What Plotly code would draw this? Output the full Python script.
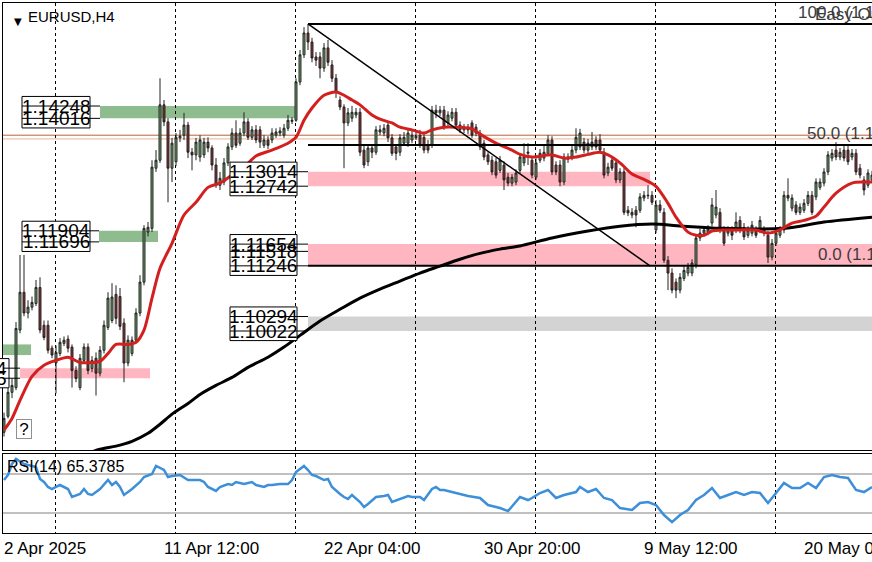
import plotly.graph_objects as go

W, H = 872, 562

# EURUSD H4 candles, bar 0 = 2 Apr 2025 00:00
opens = [
    1.0812, 1.0842, 1.0887, 1.0896, 1.1004, 1.1075, 1.1036, 1.1047, 1.1054, 1.1084,
    1.1013, 1.1013, 1.0970, 1.0942, 1.0960, 1.0979, 1.0987, 1.0972, 1.0928, 1.0896,
    1.0947, 1.0972, 1.0932, 1.0951, 1.0923, 1.0966, 1.1009, 1.1022, 1.1071, 1.1067,
    1.1017, 1.0942, 1.0960, 1.0985, 1.1036, 1.1094, 1.1188, 1.1195, 1.1308, 1.1323,
    1.1427, 1.1395, 1.1308, 1.1320, 1.1365, 1.1370, 1.1389, 1.1338, 1.1333, 1.1329,
    1.1333, 1.1357, 1.1346, 1.1314, 1.1276, 1.1282, 1.1318, 1.1348, 1.1374, 1.1355,
    1.1374, 1.1395, 1.1366, 1.1380, 1.1380, 1.1351, 1.1361, 1.1361, 1.1370, 1.1374,
    1.1370, 1.1383, 1.1396, 1.1398, 1.1470, 1.1521, 1.1562, 1.1545, 1.1517, 1.1517,
    1.1496, 1.1534, 1.1502, 1.1477, 1.1436, 1.1423, 1.1393, 1.1402, 1.1408, 1.1413,
    1.1342, 1.1320, 1.1346, 1.1338, 1.1376, 1.1374, 1.1389, 1.1365, 1.1348, 1.1338,
    1.1355, 1.1355, 1.1361, 1.1365, 1.1370, 1.1366, 1.1351, 1.1351, 1.1417, 1.1412,
    1.1417, 1.1393, 1.1402, 1.1413, 1.1389, 1.1380, 1.1385, 1.1393, 1.1385, 1.1374,
    1.1355, 1.1333, 1.1323, 1.1320, 1.1304, 1.1314, 1.1291, 1.1280, 1.1282, 1.1304,
    1.1318, 1.1336, 1.1323, 1.1291, 1.1323, 1.1327, 1.1336, 1.1361, 1.1314, 1.1314,
    1.1282, 1.1329, 1.1329, 1.1342, 1.1348, 1.1357, 1.1342, 1.1348, 1.1361, 1.1361,
    1.1338, 1.1299, 1.1323, 1.1318, 1.1286, 1.1301, 1.1229, 1.1220, 1.1229, 1.1229,
    1.1252, 1.1256, 1.1257, 1.1192, 1.1239, 1.1225, 1.1135, 1.1111, 1.1094, 1.1079,
    1.1101, 1.1111, 1.1111, 1.1126, 1.1177, 1.1186, 1.1188, 1.1205, 1.1220, 1.1225,
    1.1192, 1.1186, 1.1192, 1.1192, 1.1210, 1.1197, 1.1182, 1.1186, 1.1192, 1.1192,
    1.1186, 1.1182, 1.1141, 1.1167, 1.1182, 1.1192, 1.1257, 1.1233, 1.1239, 1.1225,
    1.1229, 1.1242, 1.1257, 1.1254, 1.1272, 1.1280, 1.1301, 1.1327, 1.1342, 1.1329,
    1.1342, 1.1342, 1.1329, 1.1336, 1.1308, 1.1286, 1.1276, 1.1286,
]
highs = [
    1.0849, 1.0895, 1.0913, 1.1019, 1.1145, 1.1145, 1.1060, 1.1067, 1.1098, 1.1103,
    1.1022, 1.1022, 1.0975, 1.0975, 1.0989, 1.0992, 1.0994, 1.0977, 1.0936, 1.0959,
    1.0979, 1.0979, 1.0955, 1.0962, 1.0974, 1.1022, 1.1075, 1.1092, 1.1088, 1.1083,
    1.1026, 1.0994, 1.0992, 1.1045, 1.1107, 1.1201, 1.1207, 1.1323, 1.1342, 1.1477,
    1.1436, 1.1402, 1.1365, 1.1374, 1.1380, 1.1412, 1.1395, 1.1346, 1.1365, 1.1370,
    1.1365, 1.1366, 1.1351, 1.1327, 1.1301, 1.1327, 1.1355, 1.1383, 1.1398, 1.1383,
    1.1413, 1.1402, 1.1387, 1.1389, 1.1387, 1.1370, 1.1368, 1.1383, 1.1383, 1.1385,
    1.1391, 1.1408, 1.1404, 1.1477, 1.1530, 1.1573, 1.1579, 1.1553, 1.1526, 1.1526,
    1.1543, 1.1549, 1.1511, 1.1485, 1.1443, 1.1428, 1.1421, 1.1425, 1.1421, 1.1421,
    1.1350, 1.1353, 1.1351, 1.1387, 1.1389, 1.1391, 1.1395, 1.1372, 1.1353, 1.1372,
    1.1376, 1.1383, 1.1380, 1.1376, 1.1380, 1.1374, 1.1361, 1.1425, 1.1427, 1.1425,
    1.1425, 1.1415, 1.1421, 1.1421, 1.1396, 1.1391, 1.1391, 1.1398, 1.1391, 1.1380,
    1.1361, 1.1338, 1.1331, 1.1327, 1.1331, 1.1321, 1.1299, 1.1297, 1.1306, 1.1336,
    1.1355, 1.1355, 1.1331, 1.1327, 1.1344, 1.1350, 1.1370, 1.1368, 1.1321, 1.1323,
    1.1336, 1.1336, 1.1350, 1.1383, 1.1382, 1.1365, 1.1363, 1.1376, 1.1368, 1.1372,
    1.1346, 1.1318, 1.1331, 1.1323, 1.1308, 1.1308, 1.1237, 1.1233, 1.1237, 1.1261,
    1.1265, 1.1276, 1.1265, 1.1248, 1.1248, 1.1233, 1.1143, 1.1120, 1.1101, 1.1111,
    1.1124, 1.1130, 1.1137, 1.1184, 1.1194, 1.1199, 1.1201, 1.1252, 1.1267, 1.1233,
    1.1199, 1.1199, 1.1199, 1.1225, 1.1218, 1.1205, 1.1199, 1.1209, 1.1199, 1.1218,
    1.1199, 1.1190, 1.1175, 1.1194, 1.1199, 1.1265, 1.1289, 1.1259, 1.1246, 1.1242,
    1.1250, 1.1265, 1.1265, 1.1289, 1.1289, 1.1308, 1.1340, 1.1344, 1.1357, 1.1346,
    1.1350, 1.1350, 1.1344, 1.1344, 1.1316, 1.1293, 1.1306, 1.1303,
]
lows = [
    1.0804, 1.0838, 1.0876, 1.0891, 1.0998, 1.1030, 1.1026, 1.1041, 1.1049, 1.0998,
    1.0985, 1.0960, 1.0951, 1.0885, 1.0955, 1.0974, 1.0962, 1.0896, 1.0906, 1.0891,
    1.0942, 1.0921, 1.0925, 1.0881, 1.0917, 1.0960, 1.1004, 1.1017, 1.1015, 1.1004,
    1.0906, 1.0936, 1.0955, 1.0979, 1.1030, 1.1088, 1.1180, 1.1188, 1.1301, 1.1318,
    1.1387, 1.1244, 1.1282, 1.1312, 1.1357, 1.1361, 1.1327, 1.1304, 1.1323, 1.1320,
    1.1327, 1.1338, 1.1304, 1.1271, 1.1267, 1.1276, 1.1312, 1.1342, 1.1346, 1.1350,
    1.1368, 1.1361, 1.1361, 1.1355, 1.1346, 1.1346, 1.1344, 1.1355, 1.1365, 1.1368,
    1.1365, 1.1378, 1.1391, 1.1395, 1.1464, 1.1515, 1.1530, 1.1507, 1.1500, 1.1477,
    1.1489, 1.1500, 1.1470, 1.1440, 1.1417, 1.1308, 1.1387, 1.1395, 1.1402, 1.1331,
    1.1308, 1.1312, 1.1327, 1.1333, 1.1370, 1.1368, 1.1357, 1.1331, 1.1323, 1.1331,
    1.1350, 1.1348, 1.1355, 1.1361, 1.1346, 1.1336, 1.1336, 1.1346, 1.1402, 1.1406,
    1.1380, 1.1387, 1.1396, 1.1383, 1.1374, 1.1374, 1.1372, 1.1365, 1.1368, 1.1342,
    1.1323, 1.1314, 1.1295, 1.1289, 1.1299, 1.1267, 1.1274, 1.1274, 1.1276, 1.1299,
    1.1312, 1.1314, 1.1289, 1.1286, 1.1318, 1.1321, 1.1331, 1.1295, 1.1295, 1.1274,
    1.1276, 1.1318, 1.1323, 1.1336, 1.1342, 1.1336, 1.1336, 1.1342, 1.1342, 1.1336,
    1.1289, 1.1293, 1.1303, 1.1280, 1.1280, 1.1220, 1.1218, 1.1214, 1.1197, 1.1224,
    1.1246, 1.1250, 1.1239, 1.1186, 1.1224, 1.1130, 1.1079, 1.1073, 1.1064, 1.1073,
    1.1096, 1.1105, 1.1105, 1.1120, 1.1171, 1.1180, 1.1182, 1.1199, 1.1214, 1.1186,
    1.1162, 1.1180, 1.1173, 1.1186, 1.1186, 1.1173, 1.1177, 1.1180, 1.1177, 1.1186,
    1.1180, 1.1130, 1.1135, 1.1162, 1.1177, 1.1186, 1.1246, 1.1227, 1.1220, 1.1220,
    1.1224, 1.1237, 1.1220, 1.1248, 1.1267, 1.1274, 1.1295, 1.1321, 1.1323, 1.1323,
    1.1321, 1.1314, 1.1323, 1.1295, 1.1289, 1.1257, 1.1271, 1.1280,
]
closes = [
    1.0838, 1.0887, 1.0900, 1.1007, 1.1075, 1.1036, 1.1047, 1.1056, 1.1084, 1.1004,
    1.0990, 1.0966, 1.0957, 1.0962, 1.0981, 1.0985, 1.0970, 1.0928, 1.0913, 1.0951,
    1.0972, 1.0928, 1.0947, 1.0923, 1.0966, 1.1013, 1.1064, 1.1066, 1.1026, 1.1011,
    1.0942, 1.0985, 1.0985, 1.1036, 1.1094, 1.1195, 1.1197, 1.1310, 1.1323, 1.1427,
    1.1395, 1.1308, 1.1355, 1.1366, 1.1368, 1.1389, 1.1338, 1.1333, 1.1357, 1.1361,
    1.1357, 1.1346, 1.1314, 1.1276, 1.1289, 1.1318, 1.1348, 1.1374, 1.1351, 1.1374,
    1.1395, 1.1366, 1.1380, 1.1361, 1.1357, 1.1361, 1.1351, 1.1374, 1.1376, 1.1378,
    1.1383, 1.1398, 1.1398, 1.1470, 1.1521, 1.1562, 1.1545, 1.1515, 1.1511, 1.1496,
    1.1534, 1.1507, 1.1477, 1.1451, 1.1423, 1.1393, 1.1412, 1.1413, 1.1413, 1.1338,
    1.1314, 1.1346, 1.1338, 1.1380, 1.1380, 1.1383, 1.1365, 1.1336, 1.1336, 1.1365,
    1.1366, 1.1374, 1.1370, 1.1368, 1.1351, 1.1342, 1.1342, 1.1417, 1.1412, 1.1417,
    1.1385, 1.1408, 1.1413, 1.1389, 1.1380, 1.1385, 1.1380, 1.1370, 1.1374, 1.1348,
    1.1329, 1.1320, 1.1301, 1.1295, 1.1323, 1.1286, 1.1280, 1.1291, 1.1299, 1.1329,
    1.1329, 1.1338, 1.1295, 1.1318, 1.1336, 1.1338, 1.1361, 1.1301, 1.1301, 1.1282,
    1.1329, 1.1325, 1.1342, 1.1366, 1.1374, 1.1342, 1.1355, 1.1357, 1.1348, 1.1342,
    1.1295, 1.1310, 1.1308, 1.1286, 1.1301, 1.1225, 1.1224, 1.1225, 1.1220, 1.1254,
    1.1257, 1.1257, 1.1244, 1.1239, 1.1229, 1.1135, 1.1111, 1.1079, 1.1079, 1.1103,
    1.1116, 1.1122, 1.1130, 1.1177, 1.1186, 1.1192, 1.1194, 1.1239, 1.1235, 1.1192,
    1.1167, 1.1192, 1.1182, 1.1207, 1.1192, 1.1179, 1.1192, 1.1201, 1.1182, 1.1210,
    1.1192, 1.1141, 1.1167, 1.1186, 1.1192, 1.1257, 1.1252, 1.1252, 1.1225, 1.1235,
    1.1242, 1.1257, 1.1225, 1.1282, 1.1282, 1.1301, 1.1333, 1.1336, 1.1329, 1.1338,
    1.1327, 1.1320, 1.1336, 1.1301, 1.1295, 1.1267, 1.1299, 1.1295,
]

# moving averages (bar index, price)
ma_red_bars = [0, 2, 4, 7, 10, 13, 16, 19, 22, 24, 26, 28, 31, 33, 35, 37, 39, 42, 45, 48,
               51, 54, 57, 60, 63, 67, 71, 73, 75, 77, 80, 83, 85, 87, 89, 92, 94, 97, 99, 102,
               105, 107, 110, 113, 117, 119, 123, 127, 129, 132, 137, 140, 143, 146, 149, 151, 154, 157, 160, 163,
               166, 168, 171, 173, 175, 177, 180, 184, 188, 191, 194, 197, 200, 203, 205, 208, 212, 215, 217]
ma_red = [1.0816, 1.0838, 1.0872, 1.0917, 1.0938, 1.0947, 1.0953, 1.0943, 1.0943, 1.0945,
          1.0960, 1.0977, 1.0977, 1.0981, 1.1004, 1.1064, 1.1120, 1.1167, 1.1220, 1.1244,
          1.1272, 1.1280, 1.1295, 1.1310, 1.1331, 1.1342, 1.1355, 1.1366, 1.1398, 1.1421,
          1.1445, 1.1451, 1.1445, 1.1436, 1.1427, 1.1408, 1.1400, 1.1393, 1.1385, 1.1380,
          1.1374, 1.1380, 1.1385, 1.1385, 1.1382, 1.1372, 1.1355, 1.1342, 1.1334, 1.1329,
          1.1333, 1.1327, 1.1329, 1.1334, 1.1338, 1.1333, 1.1318, 1.1297, 1.1287, 1.1274,
          1.1242, 1.1216, 1.1188, 1.1182, 1.1182, 1.1190, 1.1192, 1.1192, 1.1192, 1.1186,
          1.1192, 1.1205, 1.1210, 1.1218, 1.1235, 1.1261, 1.1280, 1.1282, 1.1282]

ma_black_bars = [19, 24, 28, 32, 36, 39, 42, 46, 49, 53, 57, 61, 66, 70, 74, 79, 84, 89, 94, 99,
                 104, 109, 114, 119, 124, 129, 137, 146, 154, 162, 170, 179, 195, 205, 217]
ma_black = [1.0767, 1.0780, 1.0786, 1.0795, 1.0810, 1.0827, 1.0846, 1.0866, 1.0883, 1.0900,
            1.0915, 1.0934, 1.0953, 1.0972, 1.0994, 1.1021, 1.1043, 1.1064, 1.1081, 1.1096,
            1.1111, 1.1124, 1.1137, 1.1148, 1.1156, 1.1162, 1.1177, 1.1190, 1.1199, 1.1203,
            1.1199, 1.1195, 1.1195, 1.1207, 1.1216]

# RSI(14)
rsi_bars = [0, 1, 2, 3, 5, 6, 8, 9, 10, 11,
            12, 13, 14, 16, 17, 19, 20, 21, 22, 24,
            26, 27, 28, 29, 30, 31, 32, 34, 35, 37,
            38, 40, 41, 42, 44, 46, 47, 49, 50, 51,
            53, 54, 56, 57, 58, 60, 62, 63, 65, 66,
            67, 69, 71, 72, 73, 75, 76, 77, 78, 80,
            81, 82, 84, 85, 86, 87, 89, 90, 91, 93,
            95, 96, 97, 99, 101, 102, 104, 105, 107, 108,
            109, 110, 113, 116, 119, 121, 124, 126, 129, 131,
            132, 134, 136, 138, 140, 143, 144, 146, 148, 150,
            152, 154, 157, 159, 161, 163, 165, 167, 169, 171,
            173, 175, 177, 179, 181, 183, 185, 187, 189, 191,
            193, 195, 197, 199, 201, 203, 205, 207, 209, 211,
            213, 215, 217]
rsi_vals = [63.8, 69.0, 80.3, 85.4, 80.3, 79.2, 77.2, 64.9, 61.8, 56.7,
            54.6, 56.7, 58.7, 54.6, 46.4, 49.5, 54.6, 49.5, 48.5, 54.6,
            63.8, 58.7, 61.8, 56.7, 48.5, 51.5, 54.6, 61.8, 66.9, 70.0,
            78.2, 74.1, 66.9, 67.9, 69.0, 63.8, 63.8, 63.8, 61.8, 56.7,
            52.6, 56.7, 59.7, 58.7, 61.8, 59.7, 61.8, 58.7, 56.7, 58.7,
            58.7, 59.7, 59.7, 63.8, 72.1, 78.2, 74.1, 69.0, 67.9, 63.8,
            64.9, 56.7, 49.5, 46.4, 44.4, 48.5, 41.3, 36.1, 39.2, 46.4,
            47.4, 48.5, 41.3, 44.4, 47.4, 46.4, 46.4, 43.3, 54.6, 56.7,
            53.6, 53.6, 50.5, 47.4, 45.4, 38.2, 35.1, 32.0, 46.4, 43.3,
            45.4, 50.5, 53.6, 45.4, 48.5, 51.5, 56.7, 51.5, 54.6, 45.4,
            43.3, 35.1, 33.1, 40.2, 41.3, 38.2, 27.9, 20.7, 27.9, 33.1,
            43.3, 48.5, 55.6, 45.4, 48.5, 51.5, 48.5, 51.5, 50.5, 40.2,
            50.5, 60.8, 55.6, 55.6, 60.8, 55.6, 66.9, 69.0, 66.9, 65.9,
            53.6, 51.5, 56.7]
rsi_levels = [70, 30]

time_label_bars = [0, 40, 80, 120, 160, 200]
time_labels = ["2 Apr 2025", "11 Apr 12:00", "22 Apr 04:00", "30 Apr 20:00", "9 May 12:00", "20 May 04:00"]

# supply / demand zones
zone_top = [1.14248, 1.11904, 1.0977, 1.09324, 1.13014, 1.11654, 1.10294]
zone_bottom = [1.14016, 1.11696, 1.0957, 1.09135, 1.12742, 1.11246, 1.10022]
zone_start = [24, 23.75, -1, 4, 76, 76, 76]
zone_end = [72.75, 38.5, 6.75, 36.5, 161.5, 230, 230]
zone_kind = ["buy", "buy", "buy", "sell", "sell", "sell", "flat"]
zone_colors = {"buy": "#8fbc8f", "sell": "#ffb6c1", "flat": "#d3d3d3"}

# price label boxes
label_groups = [[1.14248, 1.14016], [1.11904, 1.11696], [1.13014, 1.12742],
                [1.11654, 1.11518, 1.11246], [1.10294, 1.10022]]
label_box_start = [4.5, 4.5, 56.5, 56.5, 56.5]
label_box_end = [21.5, 21.5, 73.25, 73.25, 73.25]
label_line_end = [24, 23.75, 76, 76, 76]
edge_labels = [1.09324, 1.09135]

# fibonacci
fib_high, fib_low = 1.15790, 1.11246
fib_high_bar, fib_low_bar = 76, 161.5
fib_levels = [100.0, 50.0, 0.0]

bid_ask = [1.13700, 1.13630]

FONT = "Liberation Sans, Arial, sans-serif"


def paper_x(px):
    return (px - 3) / (W - 3)


def paper_y(py):
    return (H - py) / H


fig = go.Figure()

fig.add_trace(go.Candlestick(
    x=list(range(len(closes))), open=opens, high=highs, low=lows, close=closes,
    increasing=dict(line=dict(color="#222222", width=1), fillcolor="#68a868"),
    decreasing=dict(line=dict(color="#222222", width=1), fillcolor="#982b2b"),
    whiskerwidth=0, hoverinfo="skip", showlegend=False))
fig.add_trace(go.Scatter(x=ma_black_bars, y=ma_black, mode="lines", showlegend=False,
                         line=dict(color="black", width=3, shape="spline", smoothing=0.8)))
fig.add_trace(go.Scatter(x=ma_red_bars, y=ma_red, mode="lines", showlegend=False,
                         line=dict(color="#d41f1f", width=3, shape="spline", smoothing=0.8)))
fig.add_trace(go.Scatter(x=rsi_bars, y=rsi_vals, mode="lines", showlegend=False,
                         xaxis="x2", yaxis="y2", line=dict(color="#3d8fd9", width=2.5)))

shapes = []
for top, bot, x0, x1, kind in zip(zone_top, zone_bottom, zone_start, zone_end, zone_kind):
    shapes.append(dict(type="rect", xref="x", yref="y", x0=x0, x1=x1, y0=bot, y1=top,
                       fillcolor=zone_colors[kind], line=dict(width=0), layer="below"))

for p, c in zip(bid_ask, ["#b4643c", "#eab08e"]):
    shapes.append(dict(type="line", xref="x domain", yref="y", x0=0, x1=1, y0=p, y1=p,
                       line=dict(color=c, width=1), layer="below"))

for lv in rsi_levels:
    shapes.append(dict(type="line", xref="x2 domain", yref="y2", x0=0, x1=1, y0=lv, y1=lv,
                       line=dict(color="#c0c0c0", width=2), layer="below"))

# fibonacci levels and trend line
for lv in fib_levels:
    p = fib_low + (fib_high - fib_low) * lv / 100
    shapes.append(dict(type="line", xref="x", yref="y", x0=fib_high_bar, x1=230, y0=p, y1=p,
                       line=dict(color="black", width=2)))
shapes.append(dict(type="line", xref="x", yref="y", x0=fib_high_bar, x1=fib_low_bar,
                   y0=fib_high, y1=fib_low, line=dict(color="black", width=1.5)))

annotations = []
pad = 0.0018
for grp, bx0, bx1, lx in zip(label_groups, label_box_start, label_box_end, label_line_end):
    shapes.append(dict(type="rect", xref="x", yref="y", x0=bx0, x1=bx1,
                       y0=min(grp) - pad, y1=max(grp) + pad,
                       fillcolor="white", line=dict(color="black", width=1)))
    for p in grp:
        shapes.append(dict(type="line", xref="x", yref="y", x0=bx0, x1=lx, y0=p, y1=p,
                           line=dict(color="black", width=1)))
        annotations.append(dict(x=(bx0 + bx1) / 2, y=p, xref="x", yref="y", text=f"{p:.5f}",
                                showarrow=False, xanchor="center", yanchor="middle",
                                font=dict(family=FONT, size=19, color="black")))

# label cut by the left edge
shapes.append(dict(type="rect", xref="paper", yref="y", x0=-0.1, x1=paper_x(9),
                   y0=min(edge_labels) - pad, y1=max(edge_labels) + pad,
                   fillcolor="white", line=dict(color="black", width=1)))
for p in edge_labels:
    shapes.append(dict(type="line", xref="x", yref="y", x0=-1, x1=zone_start[3], y0=p, y1=p,
                       line=dict(color="black", width=1)))
    annotations.append(dict(x=paper_x(9), y=p, xref="paper", yref="y", text=f"{p:.5f}",
                            showarrow=False, xanchor="right", yanchor="middle",
                            font=dict(family=FONT, size=19, color="black")))

for lv in fib_levels:
    p = fib_low + (fib_high - fib_low) * lv / 100
    annotations.append(dict(x=paper_x(920), y=p, xref="paper", yref="y",
                            text=f"{lv:.1f} ({p:.5f})", showarrow=False,
                            xanchor="right", yanchor="bottom",
                            font=dict(family=FONT, size=17, color="#3c3c3c")))
annotations.append(dict(x=paper_x(813), y=paper_y(15), xref="paper", yref="paper",
                        text="Easy Order", showarrow=False, xanchor="left", yanchor="middle",
                        font=dict(family=FONT, size=17, color="#3c3c3c")))

for b, t in zip(time_label_bars, time_labels):
    annotations.append(dict(x=b, y=paper_y(548), xref="x", yref="paper", text=t,
                            showarrow=False, xanchor="left", yanchor="middle", xshift=-2,
                            font=dict(family=FONT, size=17, color="black")))

annotations += [
    dict(x=paper_x(12), y=paper_y(14), xref="paper", yref="paper", text="▼",
         showarrow=False, font=dict(family="DejaVu Sans", size=10, color="black")),
    dict(x=paper_x(26), y=paper_y(16), xref="paper", yref="paper", text="EURUSD,H4",
         showarrow=False, xanchor="left", yanchor="middle",
         font=dict(family=FONT, size=15, color="black")),
    dict(x=paper_x(5), y=paper_y(466), xref="paper", yref="paper", text="RSI(14) 65.3785",
         showarrow=False, xanchor="left", yanchor="middle",
         font=dict(family=FONT, size=16, color="black")),
    dict(x=paper_x(16), y=paper_y(439), xref="paper", yref="paper", text="?",
         showarrow=False, bgcolor="white", bordercolor="#909090", borderwidth=1,
         width=14, height=18, borderpad=0,
         font=dict(family=FONT, size=17, color="black")),
]

grid = dict(showgrid=True, gridcolor="black", gridwidth=1, griddash="3px,3px",
            tickmode="linear", tick0=12.75, dtick=30, showticklabels=False, ticks="",
            zeroline=False, showline=True, linecolor="black", linewidth=1, mirror=True,
            range=[-0.25, 217])
yax = dict(showgrid=False, showticklabels=False, ticks="", zeroline=False,
           showline=True, linecolor="black", linewidth=1)

fig.update_layout(
    width=W, height=H,
    margin=dict(l=3, r=0, t=0, b=0),
    paper_bgcolor="white", plot_bgcolor="white",
    hovermode=False,
    xaxis=dict(grid, domain=[0, 1], anchor="y", rangeslider=dict(visible=False)),
    xaxis2=dict(grid, domain=[0, 1], anchor="y2", matches="x"),
    yaxis=dict(yax, domain=[paper_y(450), paper_y(3)], range=[1.07787, 1.16183], anchor="x"),
    yaxis2=dict(yax, domain=[paper_y(533), paper_y(454)], range=[9.5, 90.5], anchor="x2"),
    shapes=shapes,
    annotations=annotations,
)

# the page's default 8px body margin would shift the chart inside the window
fig.write_html("out.html", config={"displayModeBar": False},
               post_script="document.body.style.margin='0';")
